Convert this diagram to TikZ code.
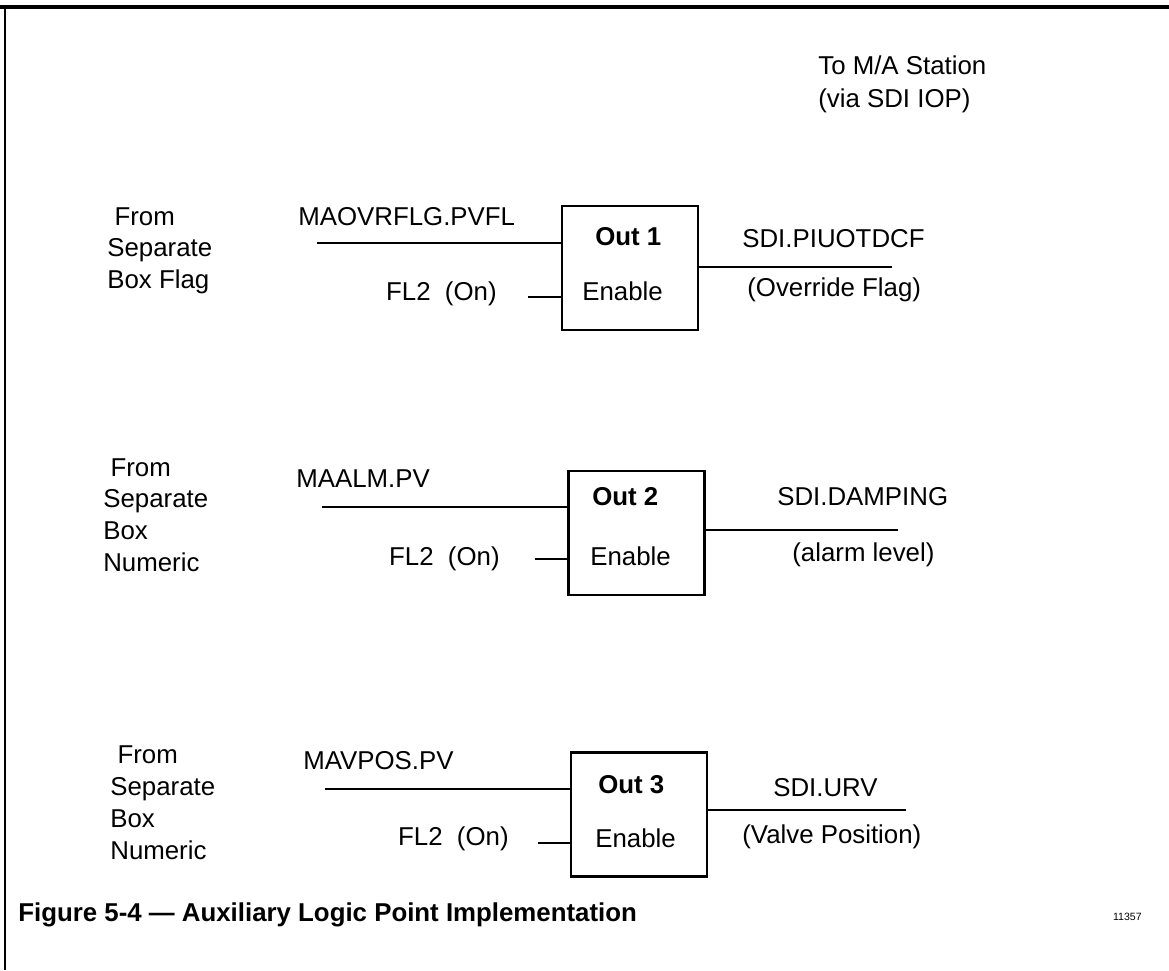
\documentclass[tikz,border=0pt]{standalone}
\usepackage{fontspec}
\setmainfont{Liberation Sans}
\usetikzlibrary{positioning}

\begin{document}
\begin{tikzpicture}[
    x=0.02cm, y=-0.02cm,
    every node/.style={inner sep=0pt, font=\fontsize{14.7}{17.9}\selectfont},
    lbl/.style={anchor=base west},
    boldlbl/.style={anchor=base west, font=\fontsize{14.7}{17.9}\selectfont\bfseries},
    outbox/.style={rectangle, draw=black, line width=1.5pt, minimum width=2.72cm, minimum height=2.48cm},
    wire/.style={line width=1.2pt}
]
\useasboundingbox (0,0) rectangle (1169,970);

% frame
\draw[line width=2pt] (0,7) -- (1169,7);
\draw[line width=1.2pt] (5,7) -- (5,970);

\node[lbl] (dest1) at (818,74) {To M/A Station};
\node[lbl] (dest2) at (818,107) {(via SDI IOP)};

% logic blocks
\node[outbox] (out1) at (630,268) {};
\node[outbox] (out2) at (636.5,533) {};
\node[outbox] (out3) at (639,814.5) {};

\node[boldlbl] (out1name) at (595,245) {Out 1};
\node[lbl] (out1en) at (582,300) {Enable};
\node[boldlbl] (out2name) at (592,505) {Out 2};
\node[lbl] (out2en) at (590,565) {Enable};
\node[boldlbl] (out3name) at (598,793) {Out 3};
\node[lbl] (out3en) at (595,847) {Enable};

% sources
\foreach \t [count=\i] in {\ From,Separate,Box Flag}
    \node[lbl] (src1-\i) at (107,225.3+31.5*\i-31.5) {\t};
\foreach \t [count=\i] in {\ From,Separate,Box,Numeric}
    \node[lbl] (src2-\i) at (103,476+31.8*\i-31.8) {\t};
\foreach \t [count=\i] in {\ From,Separate,Box,Numeric}
    \node[lbl] (src3-\i) at (110,763.5+32*\i-32) {\t};

% inputs
\coordinate (in1) at (317,243);
\coordinate (en1) at (528,297);
\coordinate (in2) at (322,507);
\coordinate (en2) at (535,559);
\coordinate (in3) at (325,789);
\coordinate (en3) at (538,843);

\node[lbl] (pv1) at (298,225) {MAOVRFLG.PVFL};
\node[anchor=base east] (fl1) at (497,300) {FL2\ \ (On)};
\node[lbl] (pv2) at (296,487) {MAALM.PV};
\node[anchor=base east] (fl2) at (500,565) {FL2\ \ (On)};
\node[lbl] (pv3) at (303,769) {MAVPOS.PV};
\node[anchor=base east] (fl3) at (509,845) {FL2\ \ (On)};

\draw[wire] (in1) -- (in1 -| out1.west);
\draw[wire] (en1) -- (en1 -| out1.west);
\draw[wire] (in2) -- (in2 -| out2.west);
\draw[wire] (en2) -- (en2 -| out2.west);
\draw[wire] (in3) -- (in3 -| out3.west);
\draw[wire] (en3) -- (en3 -| out3.west);

% outputs
\coordinate (q1) at (892,267);
\coordinate (q2) at (898,530);
\coordinate (q3) at (906,810);

\draw[wire] (out1.east |- q1) -- (q1);
\draw[wire] (out2.east |- q2) -- (q2);
\draw[wire] (out3.east |- q3) -- (q3);

\node[lbl] (sdi1) at (742,247) {SDI.PIUOTDCF};
\node[lbl] (sdi1note) at (747,296) {(Override Flag)};
\node[lbl] (sdi2) at (777,505) {SDI.DAMPING};
\node[lbl] (sdi2note) at (792,561) {(alarm level)};
\node[lbl] (sdi3) at (773,796) {SDI.URV};
\node[lbl] (sdi3note) at (742,843) {(Valve Position)};

% caption
\node[boldlbl] (caption) at (18,921) {Figure 5-4 — Auxiliary Logic Point Implementation};
\node[anchor=base east, font=\fontsize{6}{7}\selectfont] (fignum) at (1142,920) {11357};

\end{tikzpicture}
\end{document}
